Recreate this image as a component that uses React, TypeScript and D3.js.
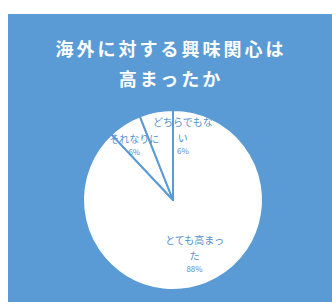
import React from "react";
import * as d3 from "d3";

// answers, clockwise from 12 o'clock
const categories = ["とても高まった", "それなりに", "どちらでもない"];
const values = [88, 6, 6];
const titleLines = ["海外に対する興味関心は", "高まったか"];

// label placement tweaks (Excel nudged the small ones apart)
const labelRadius = [0.65, 0.72, 0.72];
const labelShift = [0, -4, 22];

const W = 332;
const H = 302;
const BLUE = "#5b9bd5";
const FONT = "'Noto Sans CJK JP', 'Noto Sans', sans-serif";

function wrap(s: string, n: number) {
  const out: string[] = [];
  for (let i = 0; i < s.length; i += n) out.push(s.slice(i, i + n));
  return out;
}

export default function App() {
  const cx = 173;
  const cy = 200;
  const r = 90;

  const pie = d3.pie<number>().sort(null).value((d) => d);
  const arcs = pie(values);
  const arc = d3.arc<d3.PieArcDatum<number>>().innerRadius(0).outerRadius(r);
  const total = d3.sum(values);

  return (
    <svg
      width={W}
      height={H}
      style={{ position: "absolute", left: 0, top: 0 }}
      fontFamily={FONT}
    >
      <rect x={0} y={0} width={W} height={H} fill="#fff" />
      <rect x={8} y={14} width={W - 8} height={H - 14} fill={BLUE} />

      {titleLines.map((t, i) => (
        <text
          key={i}
          x={171}
          y={48 + i * 30}
          textAnchor="middle"
          dominantBaseline="central"
          fill="#fff"
          fontSize={18}
          fontWeight="bold"
          letterSpacing={3}
        >
          {t}
        </text>
      ))}

      <g transform={`translate(${cx},${cy})`}>
        {arcs.map((a, i) => (
          <path
            key={i}
            d={arc(a) || ""}
            fill="#fff"
            stroke={BLUE}
            strokeWidth={2}
            strokeLinejoin="round"
          />
        ))}
        {arcs.map((a, i) => {
          const lr = r * labelRadius[i];
          const c = d3
            .arc<d3.PieArcDatum<number>>()
            .innerRadius(lr)
            .outerRadius(lr)
            .centroid(a);
          const lines = wrap(categories[i], 6);
          const pct = `${Math.round((values[i] / total) * 100)}%`;
          const n = lines.length;
          const blockH = n * 16 + 13;
          const y0 = c[1] - blockH / 2 + 8;
          const x = c[0] + labelShift[i];
          return (
            <g key={"l" + i} fill="#5690cf" textAnchor="middle">
              {lines.map((ln, j) => (
                <text
                  key={j}
                  x={x}
                  y={y0 + j * 16}
                  dominantBaseline="central"
                  fontSize={10}
                >
                  {ln}
                </text>
              ))}
              <text
                x={x}
                y={y0 + (n - 1) * 16 + 13}
                dominantBaseline="central"
                fontSize={8}
              >
                {pct}
              </text>
            </g>
          );
        })}
      </g>
    </svg>
  );
}
